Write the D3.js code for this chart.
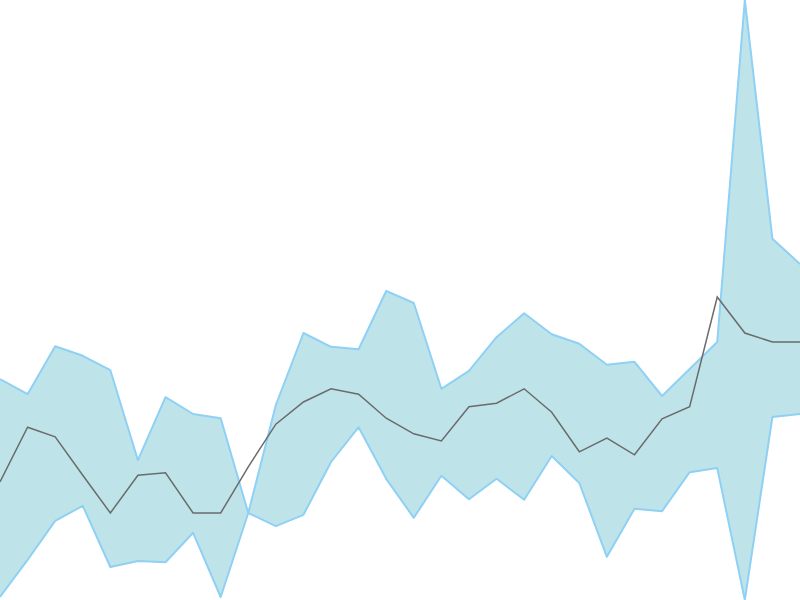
<!DOCTYPE html>
<html>
<head>
<meta charset="utf-8">
<script src="https://cdn.jsdelivr.net/npm/d3@7"></script>
<style>
  html, body { margin: 0; padding: 0; background: #fff; }
  svg { display: block; }
</style>
</head>
<body>
<svg id="chart" width="800" height="600"></svg>
<script>
// band upper / lower bounds and median, one value per step
const steps = d3.range(30);
const upper = [36.8, 34.3, 42.3, 40.7, 38.3, 23.3, 33.8, 31.0, 30.3, 14.5,
               32.5, 44.5, 42.2, 41.8, 51.5, 49.5, 35.2, 38.2, 43.8, 47.8,
               44.3, 42.7, 39.2, 39.7, 34.0, 38.5, 43.0, 100, 60.2, 56.0];
const median = [19.7, 28.8, 27.2, 20.8, 14.5, 20.8, 21.2, 14.5, 14.5, 22.2,
                29.3, 33.0, 35.2, 34.3, 30.3, 27.7, 26.5, 32.2, 32.8, 35.2,
                31.3, 24.7, 27.0, 24.2, 30.2, 32.2, 50.5, 44.5, 43.0, 43.0];
const lower = [0.5, 6.7, 13.2, 15.7, 5.5, 6.5, 6.3, 11.2, 0.5, 14.5,
               12.3, 14.2, 23.0, 28.8, 20.2, 13.7, 20.7, 16.8, 20.2, 16.7,
               24.0, 19.5, 7.2, 15.2, 14.8, 21.3, 22.0, 0, 30.5, 31.0];

const width = 800, height = 600;

const data = steps.map(i => ({ i: i, hi: upper[i], mid: median[i], lo: lower[i] }));

const x = d3.scaleLinear()
    .domain(d3.extent(steps))
    .range([0, width]);

const y = d3.scaleLinear()
    .domain([d3.min(lower), d3.max(upper)])
    .range([height, 0]);

const svg = d3.select("#chart");

// band
svg.append("path")
    .datum(data)
    .attr("fill", "#bee4e9")
    .attr("stroke", "none")
    .attr("d", d3.area()
        .x(d => x(d.i))
        .y0(d => y(d.lo))
        .y1(d => y(d.hi)));

// band edges
[d => d.hi, d => d.lo].forEach(acc => {
    svg.append("path")
        .datum(data)
        .attr("fill", "none")
        .attr("stroke", "#8fd0f5")
        .attr("stroke-width", 2)
        .attr("stroke-linejoin", "round")
        .attr("d", d3.line()
            .x(d => x(d.i))
            .y(d => y(acc(d))));
});

// median
svg.append("path")
    .datum(data)
    .attr("fill", "none")
    .attr("stroke", "#6b6b6b")
    .attr("stroke-width", 1.5)
    .attr("d", d3.line()
        .x(d => x(d.i))
        .y(d => y(d.mid)));
</script>
</body>
</html>
